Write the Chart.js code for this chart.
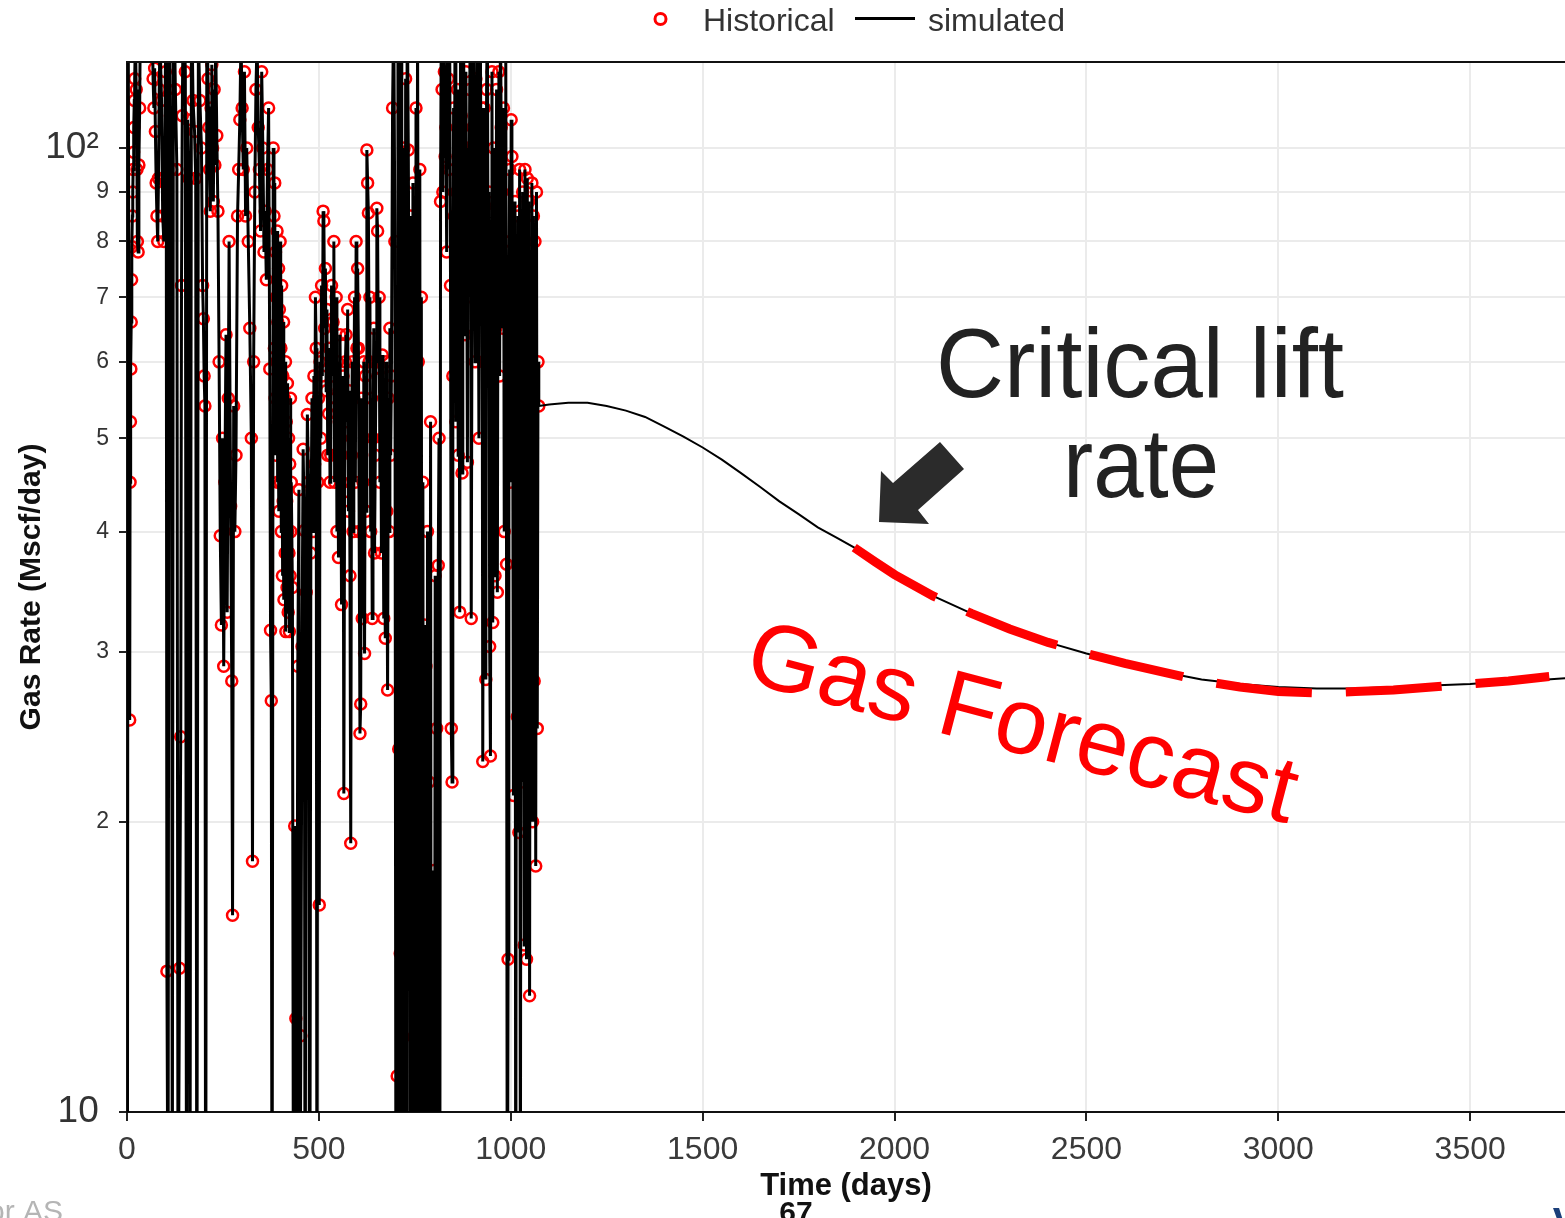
<!DOCTYPE html>
<html>
<head>
<meta charset="utf-8">
<script src="https://cdn.jsdelivr.net/npm/chart.js@4.4.1/dist/chart.umd.min.js"></script>
<style>
html,body{margin:0;padding:0;background:#fff;}
canvas{display:block;}
</style>
</head>
<body>
<canvas id="c" width="1565" height="1218"></canvas>
<script>
// ---------------- DATA ----------------
const histDays = [
1,3,7,8,9,10,11,12,13,14,15,16,17,18,19,20,22,24,26,27,29,31,33,35,
45,55,64,68,70,72,74,76,78,80,82,84,86,90,93,96,98,100,102,
104,107,110,113,116,118,121,126,130,133,137,140,142,144,147,152,155,158,161,164,168,172,176,179,182,186,190,194,
197,199,201,203,205,208,211,213,215,217,219,221,223,225,227,229,231,234,237,
240,243,246,249,252,255,258,261,264,266,270,273,275,278,281,284,
288,291,294,297,300,303,306,309,312,316,320,324,327,330,333,
336,339,342,345,348,351,354,357,360,363,366,369,372,374,376,378,381,
383,384,385,386,387,388,389,390,391,392,393,394,395,396,397,398,399,400,401,402,403,404,405,406,407,408,409,410,411,412,413,414,415,416,417,418,419,420,421,422,423,424,425,426,427,428,
431,434,437,440,442,445,448,450,453,456,459,462,464,467,470,473,476,479,482,
485,487,489,491,493,495,497,499,501,503,505,507,509,511,513,515,517,519,521,523,525,527,529,
531,533,535,537,539,541,543,545,547,549,551,553,555,557,559,561,563,565,567,569,
571,573,575,577,579,581,583,585,587,589,591,593,595,597,599,601,
603,605,607,609,611,613,615,617,619,621,623,625,627,629,631,633,635,637,639,641,643,645,647,649,
651,653,655,657,659,661,663,665,667,669,671,673,675,677,679,681,683,685,687,689,
692,695,698,701,704,706,708,710,712,714,716,718,720,722,724,726,728,730,
733,735,737,739,741,743,745,747,749,751,753,755,757,759,761,763,765,767,
769,771,773,775,777,779,781,783,785,787,789,791,793,795,797,799,801,803,805,807,809,
811,813,815,817,819,821,823,825,827,829,831,833,835,837,839,841,843,845,847,849,851,853,855,857,859,861,863,865,867,869,871,873,875,877,879,
881,883,885,887,889,891,893,895,897,899,901,903,905,907,909,911,913,915,917,919,921,923,925,
927,929,931,933,935,937,939,941,943,945,947,949,951,953,955,957,959,961,963,965,967,969,971,973,975,
977,979,981,983,985,987,989,991,993,995,997,999,1001,1003,1005,1007,1009,1011,
1013,1015,1017,1019,1021,1023,1025,1027,1029,1031,1033,1035,
1037,1039,1041,1043,1045,1047,1049,1051,1053,1055,1057,1059,1061,1063,1065,1067,1069,1071,1073
];
const histRates = [
6,150,25.5,45,52,59,66,73,79,85,90,95,99,105,112,118,130,115,95,80,78,96,110,140,
160,170,150,118,110,121,104,92,85,80,93,115,130,112,85,80,93,120,140,
14,7,150,108,95,7,160,115,95,7,14.1,24.5,72,108,150,120,7,107,93,6,150,112,104,93,6,130,112,100,
72,66.5,58,54,5,140,118,105,95,86,110,122,100,88,115,96,130,103,86,
60,39.6,32,50,29,45,64,33,55,80,42.5,28,16,54,40,48,
85,95,107,130,110,95,120,85,100,80,65,50,18.2,60,90,
115,130,105,95,82,120,100,78,86,73,95,110,59,31.6,26.7,6,100,
85,62,92,55,78,48,70,60,82,45,66,52,75,42,68,58,80,45,62,40,72,50,36,58,43,66,34,55,47,38,60,31.5,52,43,35,57,40,33,50,38,31.5,47,36,55,40,45,
35,6,19.8,12.5,7,29,44.2,6,12,30.4,48.7,40.1,6,34.6,52.9,45,5,38,55,
40,58,47,70,62,6,45,55,16.4,60,50,72,58,86,84,65,75,56,68,48,53,62,45,
48,72,58,66,80,45,55,70,40,60,37.6,52,64,50,33.6,45,58,21.4,44,60,
64,52,68,42,56,36,19,48,60,40,55,70,45,80,62,75,
62,40,24.7,26.5,55,32.5,45,60,29.9,58,42,99.5,92,85.6,60,70,40,55,32.5,50,65,38,48,60,
86.6,82,60,70,45,59,38,61,50,32.5,50,31,60,42,27.4,55,40,65,48,58,
110,140,80,6,10.9,150,23.8,6,14.6,130,22.4,5,11.96,100,6,118,7,150,
99.5,64,6,85,61,5,92,56,7,50,110,6,140,60,7,95,5,70,
6,45,7,32,6,29,8,40,5,22,7,52,6,14,7,17.8,6,36,8,25,6,
36.9,50,6,88,140,115,90,130,120,98,105,78,140,118,95,125,72,25,22,58,110,85,140,52,90,115,48,95,33,130,108,46,100,140,75,
64,120,85,47.2,100,77,115,140,32.5,70,105,140,95,60,118,105,150,88,50,98,125,80,110,
23.1,60,110,87,28.1,115,140,70,90,30.4,23.4,63,120,32.2,100,80,36,65,115,34.6,95,120,58,140,105,
90,65,110,40,80,125,37,6,14.4,70,95,45,107,98,60,21.3,75,88,
6,60,25.7,85,19.5,95,7,62,22,90,45,14.9,
95,40,14.4,93,30,88,13.2,70,35,92,20,85,28,80,18,90,25,60,54
];
// simulated forecast after the history
const forecastDays = [1100,1150,1200,1250,1300,1350,1400,1450,1500,1550,1600,1650,1700,1750,1800,1850,1900,1950,2000,
  2100,2200,2300,2400,2500,2600,2700,2800,2900,3000,3100,3200,3300,3400,3500,3600,3700,3760];
const forecastRates = [54.2,54.4,54.4,54.0,53.4,52.6,51.4,50.2,48.9,47.5,46.0,44.5,43.0,41.7,40.4,39.4,38.4,37.2,36.1,
  34.3,32.9,31.7,30.7,29.9,29.2,28.6,28.1,27.8,27.6,27.5,27.5,27.6,27.7,27.8,28.0,28.1,28.2];
// hand-drawn red "Gas Forecast" dashed overlay
const overlayDays = [1895,1950,2000,2100,2200,2300,2400,2500,2600,2700,2800,2900,3000,3100,3200,3300,3400,3500,3600,3706];
const overlayRates = [38.5,37.2,36.1,34.3,32.9,31.7,30.7,29.9,29.2,28.6,28.0,27.6,27.3,27.2,27.3,27.4,27.6,27.8,28.0,28.3];

const xTickVals = [0,500,1000,1500,2000,2500,3000,3500];
const yTickVals = [10,20,30,40,50,60,70,80,90,100];
const yTickLabels = ['10','2','3','4','5','6','7','8','9','10\u00B2'];

const legendLabels = ['Historical','simulated'];
// --------------------------------------

const FONT = "'Liberation Sans', Arial, Helvetica, sans-serif";
Chart.defaults.font.family = FONT;

const histEnd = histDays[histDays.length - 1];
const histPts = histDays.map((d, i) => ({x: d, y: histRates[i]}));
const simPts = histPts.concat(forecastDays.map((d, i) => ({x: d, y: forecastRates[i]})));
const overlayPts = overlayDays.map((d, i) => ({x: d, y: overlayRates[i]}));

const annot = {
  id: 'annot',
  afterDraw(chart) {
    const {ctx, chartArea: a} = chart;
    ctx.save();
    // panel top border
    ctx.strokeStyle = '#111';
    ctx.lineWidth = 2;
    ctx.beginPath();
    ctx.moveTo(a.left - 1, a.top);
    ctx.lineTo(a.right, a.top);
    ctx.stroke();

    // legend
    ctx.beginPath();
    ctx.arc(660.5, 19, 5.5, 0, Math.PI * 2);
    ctx.strokeStyle = '#ff0000';
    ctx.lineWidth = 3;
    ctx.stroke();
    ctx.font = '32px ' + FONT;
    ctx.fillStyle = '#333';
    ctx.textAlign = 'left';
    ctx.textBaseline = 'alphabetic';
    ctx.fillText(legendLabels[0], 703, 31);
    ctx.beginPath();
    ctx.moveTo(855, 18.5);
    ctx.lineTo(915, 18.5);
    ctx.strokeStyle = '#000';
    ctx.lineWidth = 3;
    ctx.stroke();
    ctx.fillText(legendLabels[1], 928, 31);

    // arrow
    const arrow = [[879,522],[881,471],[893,483],[940,442],[964,469],[918,510],[929,524]];
    ctx.fillStyle = '#2b2b2b';
    ctx.beginPath();
    arrow.forEach(([x, y], i) => i ? ctx.lineTo(x, y) : ctx.moveTo(x, y));
    ctx.closePath();
    ctx.fill();

    // Critical lift rate
    ctx.fillStyle = '#222';
    ctx.textAlign = 'center';
    ctx.font = '98px ' + FONT;
    ctx.fillText('Critical lift', 1140, 397, 408);
    ctx.fillText('rate', 1141, 497, 156);

    // Gas Forecast
    ctx.save();
    ctx.translate(742, 681);
    ctx.rotate(14.65 * Math.PI / 180);
    ctx.textAlign = 'left';
    ctx.fillStyle = '#ff0000';
    ctx.font = '94px ' + FONT;
    ctx.fillText('Gas Forecast', 0, 0);
    ctx.restore();

    // slide footer remnants
    ctx.textAlign = 'right';
    ctx.fillStyle = '#b5b5b5';
    ctx.font = '30px ' + FONT;
    ctx.fillText('nor AS', 63, 1221);
    ctx.textAlign = 'center';
    ctx.fillStyle = '#111';
    ctx.font = 'bold 30px ' + FONT;
    ctx.fillText('67', 796, 1222);
    ctx.fillStyle = '#1b3f7a';
    ctx.font = 'bold 40px ' + FONT;
    ctx.fillText('V', 1566, 1236);
    ctx.restore();
  }
};

new Chart(document.getElementById('c'), {
  type: 'line',
  data: {
    datasets: [
      {
        label: 'Gas Forecast',
        data: overlayPts,
        borderColor: '#ff0000',
        borderWidth: 9,
        borderDash: [96, 34],
        borderCapStyle: 'butt',
        pointRadius: 0,
        fill: false,
        tension: 0,
        order: 1
      },
      {
        label: legendLabels[1],
        data: simPts,
        borderColor: '#000',
        borderWidth: 2,
        segment: {borderWidth: c => (c.p0.parsed.x < histEnd ? 3 : 2)},
        pointRadius: 0,
        fill: false,
        tension: 0,
        order: 2
      },
      {
        label: legendLabels[0],
        data: histPts,
        showLine: false,
        pointRadius: 5.5,
        pointBorderWidth: 2.5,
        pointBorderColor: '#ff0000',
        pointBackgroundColor: 'rgba(0,0,0,0)',
        order: 3
      }
    ]
  },
  options: {
    responsive: false,
    devicePixelRatio: 1,
    animation: false,
    events: [],
    layout: {autoPadding: false, padding: {top: 62, left: 0, right: 0, bottom: 0}},
    plugins: {legend: {display: false}, tooltip: {enabled: false}},
    scales: {
      x: {
        type: 'linear',
        min: 0,
        max: 3747,
        afterBuildTicks: s => { s.ticks = xTickVals.map(v => ({value: v})); },
        afterFit: s => { s.height = 106; s.paddingLeft = 0; s.paddingRight = 0; },
        grid: {color: '#ebebeb', lineWidth: 2, tickColor: '#222', tickWidth: 2, tickLength: 9},
        border: {color: '#111', width: 2},
        ticks: {autoSkip: false, maxRotation: 0, padding: 10, color: '#3a3a3a', font: {size: 32},
                callback: v => String(v)},
        title: {display: true, text: 'Time (days)', color: '#111', font: {size: 31, weight: 'bold'}, padding: {top: 0, bottom: 13}}
      },
      y: {
        type: 'logarithmic',
        min: 10,
        max: 122.8,
        afterBuildTicks: s => { s.ticks = yTickVals.map(v => ({value: v})); },
        afterFit: s => { s.width = 127; s.paddingTop = 0; s.paddingBottom = 0; },
        grid: {color: '#ebebeb', lineWidth: 2, tickColor: '#222', tickWidth: 2, tickLength: 8},
        border: {color: '#111', width: 2},
        ticks: {
          autoSkip: false,
          padding: 10,
          color: '#333',
          font: c => ({size: (c.tick && (c.tick.value === 10 || c.tick.value === 100)) ? 37 : 23}),
          callback: v => {
            const i = yTickVals.indexOf(v);
            if (i < 0) return '';
            return (v === 10 || v === 100) ? yTickLabels[i] + ' ' : yTickLabels[i];
          }
        },
        title: {display: true, text: 'Gas Rate (Mscf/day)', color: '#111', font: {size: 30, weight: 'bold'}, padding: {top: 14, bottom: 0}}
      }
    }
  },
  plugins: [annot]
});
</script>
</body>
</html>
